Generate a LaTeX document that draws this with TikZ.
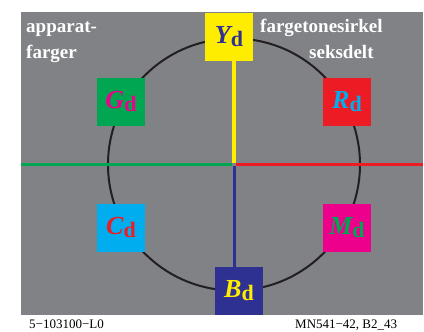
\documentclass[tikz,border=0pt]{standalone}
\usepackage{fontspec}
\setmainfont{Liberation Serif}
\definecolor{bggray}{RGB}{128,130,134}
\definecolor{cyel}{RGB}{255,237,0}
\definecolor{cgreen}{RGB}{0,166,81}
\definecolor{cred}{RGB}{237,28,36}
\definecolor{cblue}{RGB}{46,49,146}
\definecolor{ccyan}{RGB}{0,174,239}
\definecolor{cmag}{RGB}{236,0,140}
\definecolor{ccirc}{RGB}{35,31,32}
\tikzset{
  cbox/.style={draw=none,minimum width=48pt,minimum height=48pt,inner sep=0pt},
  hdr/.style={text=white,font=\fontsize{19}{26}\selectfont\bfseries,inner sep=0pt,anchor=base west},
  foot/.style={text=black,font=\fontsize{13}{15}\selectfont,inner sep=0pt,anchor=base west},
  axis/.style={line width=3pt},
}
\newcommand{\lbl}[1]{{\fontsize{26}{26}\selectfont\bfseries\itshape #1}{\fontsize{22}{22}\selectfont\bfseries\raisebox{-3pt}{d}}}
\begin{document}
\begin{tikzpicture}[x=1pt,y=-1pt]
\useasboundingbox (0,0) rectangle (424,332);
\fill[bggray] (21,12) rectangle (423,315);
\coordinate (ctr) at (234,164.5);
\draw[ccirc,line width=2pt] (ctr) circle[radius=126];
\coordinate (gl) at (21,164.5);
\coordinate (gr) at (232.3,164.5);
\coordinate (rl) at (235.7,164.5);
\coordinate (rr) at (423,164.5);
\coordinate (yt) at (233.7,60);
\coordinate (yb) at (233.7,163.2);
\coordinate (bt) at (234,165.8);
\coordinate (bb) at (234,268);
\draw[axis,cgreen] (gl) -- (gr);
\draw[axis,cred] (rl) -- (rr);
\draw[axis,cyel,line width=4pt] (yt) -- (yb);
\draw[axis,cblue] (bt) -- (bb);
\node[cbox,fill=cyel] (Y) at (229,36.5) {};
\node[text=cblue] (Yl) at (Y.center) {\lbl{Y}};
\node[cbox,fill=cgreen] (G) at (121,101.7) {};
\node[text=cmag] (Gl) at (G.center) {\lbl{G}};
\node[cbox,fill=cred] (R) at (347,102) {};
\node[text=ccyan] (Rl) at (R.center) {\lbl{R}};
\node[cbox,fill=ccyan] (C) at (121,227.7) {};
\node[text=cred] (Cl) at (C.center) {\lbl{C}};
\node[cbox,fill=cmag] (M) at (347,228) {};
\node[text=cgreen] (Ml) at (M.center) {\lbl{M}};
\node[cbox,fill=cblue] (B) at (239,291) {};
\node[text=cyel] (Bl) at (B.center) {\lbl{B}};
\node[hdr] (t1) at (26,33) {apparat-};
\node[hdr] (t2) at (26,59) {farger};
\node[hdr] (t3) at (260,33) {fargetonesirkel};
\node[hdr] (t4) at (309,58.5) {seksdelt};
\node[foot] (f1) at (29,328) {5−103100−L0};
\node[foot] (f2) at (295,328) {MN541−42, B2\_43};
\end{tikzpicture}
\end{document}
